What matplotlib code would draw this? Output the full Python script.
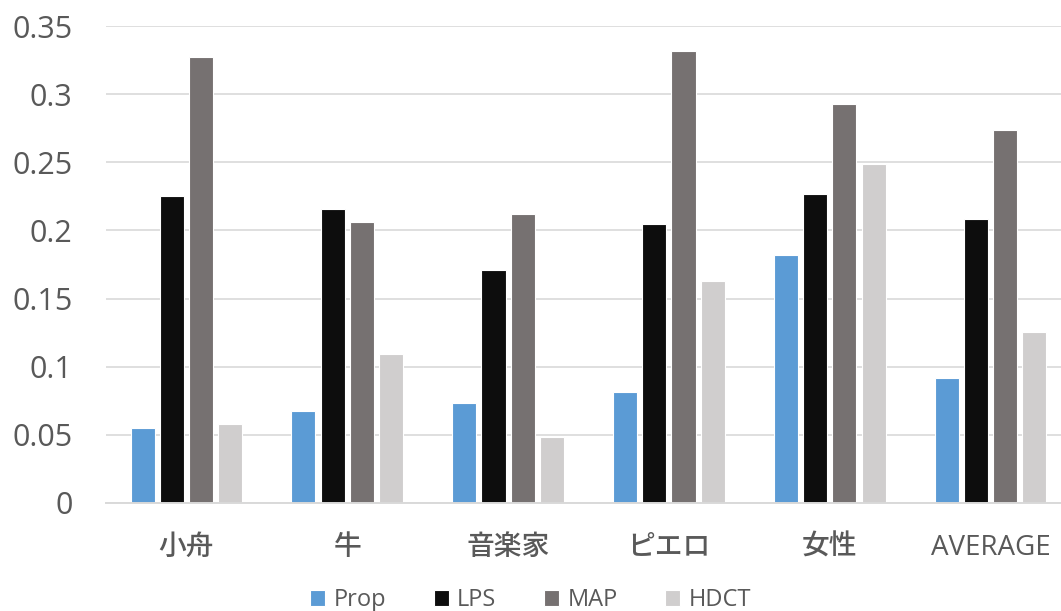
import matplotlib.pyplot as plt
import numpy as np

plt.rcParams['font.family'] = ['Open Sans', 'Noto Sans CJK JP', 'DejaVu Sans']

categories = ['小舟', '牛', '音楽家', 'ピエロ', '女性', 'AVERAGE']
series_names = ['Prop', 'LPS', 'MAP', 'HDCT']
prop = [0.055, 0.0675, 0.0735, 0.0815, 0.182, 0.092]
lps = [0.225, 0.216, 0.171, 0.205, 0.227, 0.2085]
map_ = [0.327, 0.206, 0.212, 0.332, 0.293, 0.274]
hdct = [0.058, 0.109, 0.0485, 0.163, 0.249, 0.1255]
yticks = [0, 0.05, 0.1, 0.15, 0.2, 0.25, 0.3, 0.35]
yticklabels = ['0', '0.05', '0.1', '0.15', '0.2', '0.25', '0.3', '0.35']

colors = ['#5B9BD5', '#0D0D0D', '#767171', '#D0CECE']
text_color = '#595959'
grid_color = '#D9D9D9'

fig = plt.figure(figsize=(10.61, 6.11), dpi=100)
ax = fig.add_axes([0.0999, 0.1768, 0.9095, 0.7806])

x = np.arange(len(categories))
step = 0.1817
for i, (name, vals) in enumerate(zip(series_names, [prop, lps, map_, hdct])):
    ax.bar(x + (i - 1.5) * step, vals, width=0.15, color=colors[i],
           edgecolor='white', linewidth=0.8, label=name, zorder=3)

ax.set_xlim(-0.5, len(categories) - 0.5)
ax.set_ylim(0, 0.35)
ax.set_yticks(yticks)
ax.set_yticklabels(yticklabels)
ax.set_xticks(x)
ax.set_xticklabels(categories)

ax.grid(axis='y', color=grid_color, linewidth=1.2, zorder=0)
ax.set_axisbelow(True)
for side in ['top', 'right', 'left']:
    ax.spines[side].set_visible(False)
ax.spines['bottom'].set_color(grid_color)
ax.spines['bottom'].set_linewidth(1.4)
ax.spines['bottom'].set_zorder(4)

ax.tick_params(axis='y', length=0, pad=24, labelsize=22, labelcolor=text_color)
ax.tick_params(axis='x', length=0, pad=22, labelsize=20, labelcolor=text_color)
# the Japanese names read a little heavier than the Latin one
for lbl in ax.get_xticklabels():
    if not lbl.get_text().isascii():
        lbl.set_fontweight('medium')

fig.legend(loc='lower center', bbox_to_anchor=(0.5, -0.037), ncol=4,
           frameon=False, fontsize=17, labelcolor=text_color,
           handlelength=0.65, handleheight=0.65, handletextpad=0.35,
           columnspacing=2.0)

fig.savefig('out.png', dpi=100)
